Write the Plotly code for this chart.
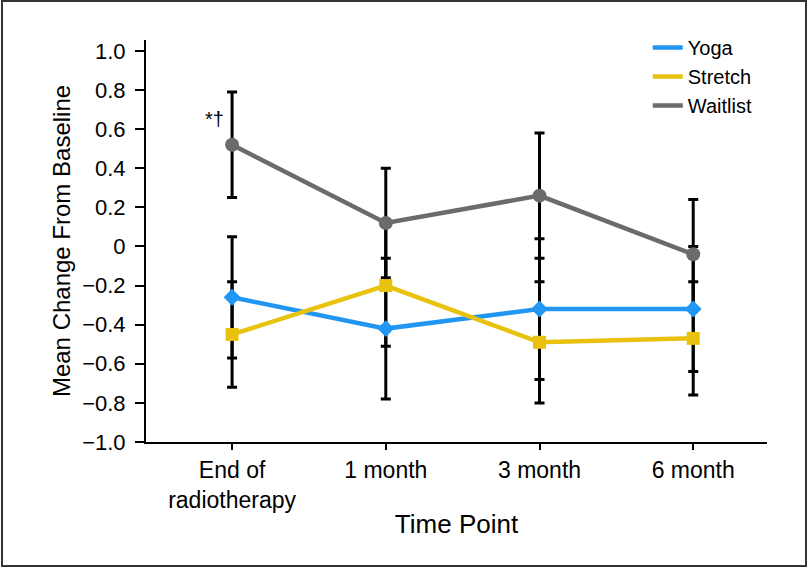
import plotly.graph_objects as go

categories = ["End of<br>radiotherapy", "1 month", "3 month", "6 month"]
x_idx = [0, 1, 2, 3]

yoga_mean = [-0.26, -0.42, -0.32, -0.32]
yoga_err = [0.31, 0.36, 0.36, 0.32]

stretch_mean = [-0.45, -0.20, -0.49, -0.47]
stretch_err = [0.27, 0.31, 0.31, 0.29]

waitlist_mean = [0.52, 0.12, 0.26, -0.04]
waitlist_err = [0.27, 0.28, 0.32, 0.28]

y_tickvals = [1.0, 0.8, 0.6, 0.4, 0.2, 0, -0.2, -0.4, -0.6, -0.8, -1.0]
y_ticktext = ["1.0", "0.8", "0.6", "0.4", "0.2", "0", "\u22120.2", "\u22120.4", "\u22120.6", "\u22120.8", "\u22121.0"]

series = [
    ("Yoga", yoga_mean, yoga_err, "#2196F3", "diamond", 13),
    ("Stretch", stretch_mean, stretch_err, "#E8C20C", "square", 13),
    ("Waitlist", waitlist_mean, waitlist_err, "#6B6B6B", "circle", 14),
]

FONT = "Liberation Sans, Arial, Helvetica, sans-serif"

fig = go.Figure()

# error bars first (beneath all lines/markers)
for name, m, e, c, sym, sz in series:
    fig.add_trace(go.Scatter(
        x=x_idx, y=m, mode="markers", showlegend=False, hoverinfo="skip",
        marker=dict(size=1, color="rgba(0,0,0,0)"),
        error_y=dict(type="data", array=e, visible=True, color="black",
                     thickness=3, width=5),
    ))

for name, m, e, c, sym, sz in series:
    fig.add_trace(go.Scatter(
        x=x_idx, y=m, mode="lines", name=name,
        line=dict(color=c, width=4.5),
    ))
    fig.add_trace(go.Scatter(
        x=x_idx, y=m, mode="markers", showlegend=False,
        marker=dict(symbol=sym, size=sz, color=c),
    ))

fig.add_annotation(x=0, y=0.65, xref="x", yref="y", text="*\u2020", showarrow=False,
                   xshift=-18, font=dict(family=FONT, size=20, color="#000000"))

# outer frame
fig.add_shape(type="rect", xref="paper", yref="paper",
              x0=-0.2319, x1=1.0628, y0=-0.3085, y1=1.097,
              line=dict(color="#333333", width=2))

fig.update_layout(
    width=809, height=568,
    margin=dict(l=146, r=42, t=40, b=126),
    paper_bgcolor="white", plot_bgcolor="white",
    font=dict(family=FONT, color="black", size=20),
    showlegend=True,
    legend=dict(x=0.808, y=1.03, xanchor="left", yanchor="top",
                font=dict(family=FONT, size=20), tracegroupgap=0,
                itemwidth=30, bgcolor="rgba(0,0,0,0)"),
    xaxis=dict(
        range=[-0.56, 3.48], tickmode="array", tickvals=x_idx, ticktext=categories,
        showline=True, linecolor="black", linewidth=2, showgrid=False, zeroline=False,
        ticks="outside", ticklen=6, tickwidth=1.5, tickcolor="black",
        tickfont=dict(size=23),
        title=dict(text="Time Point", font=dict(size=26), standoff=3),
    ),
    yaxis=dict(
        range=[-1.0, 1.056], tickmode="array", tickvals=y_tickvals, ticktext=y_ticktext,
        showline=True, linecolor="black", linewidth=2, showgrid=False, zeroline=False,
        ticks="outside", ticklen=9, tickwidth=1.5, tickcolor="black",
        tickfont=dict(size=22), ticklabelstandoff=5,
        title=dict(text="Mean Change From Baseline", font=dict(size=24), standoff=5),
    ),
)

fig.write_html("out.html", config={"displayModeBar": False},
               post_script="document.body.style.margin='0';")
